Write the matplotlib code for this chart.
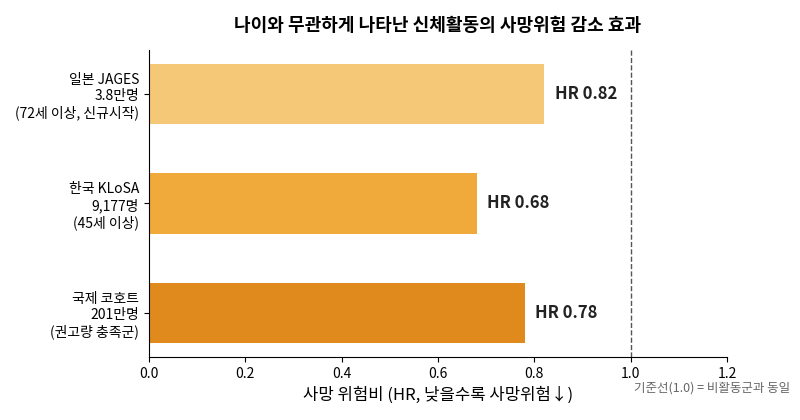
import matplotlib
matplotlib.use("Agg")
import matplotlib.pyplot as plt

plt.rcParams['font.family'] = ['Noto Sans CJK KR', 'DejaVu Sans']

labels = ["일본 JAGES\n3.8만명\n(72세 이상, 신규시작)",
          "한국 KLoSA\n9,177명\n(45세 이상)",
          "국제 코호트\n201만명\n(권고량 충족군)"]
hr = [0.82, 0.68, 0.78]
colors = ["#F5C878", "#F0AA3C", "#E08A1E"]

fig = plt.figure(figsize=(8, 4.2), dpi=100)
ax = fig.add_axes([0.186, 0.150, 0.723, 0.731])

y = range(len(labels))
ax.barh(y, hr, height=0.55, color=colors)
ax.invert_yaxis()
ax.set_yticks(list(y))
ax.set_yticklabels(labels, fontsize=10)
ax.set_xlim(0, 1.2)
ax.set_xticks([0, 0.2, 0.4, 0.6, 0.8, 1.0, 1.2])
ax.tick_params(axis='x', labelsize=10)

for i, v in enumerate(hr):
    ax.text(v + 0.022, i, "HR {:.2f}".format(v), va='center', ha='left',
            fontsize=12, fontweight='bold', color='#222222')

ax.axvline(1.0, color='#555555', linestyle='--', linewidth=1)

ax.spines['top'].set_visible(False)
ax.spines['right'].set_visible(False)

ax.set_xlabel("사망 위험비 (HR, 낮을수록 사망위험↓)", fontsize=12)
ax.set_title("나이와 무관하게 나타난 신체활동의 사망위험 감소 효과",
             fontsize=13, fontweight='bold', pad=14)

fig.text(0.988, 0.076, "기준선(1.0) = 비활동군과 동일", ha='right', va='center',
         fontsize=9, color='#666666')

fig.savefig("out.png", dpi=100)
